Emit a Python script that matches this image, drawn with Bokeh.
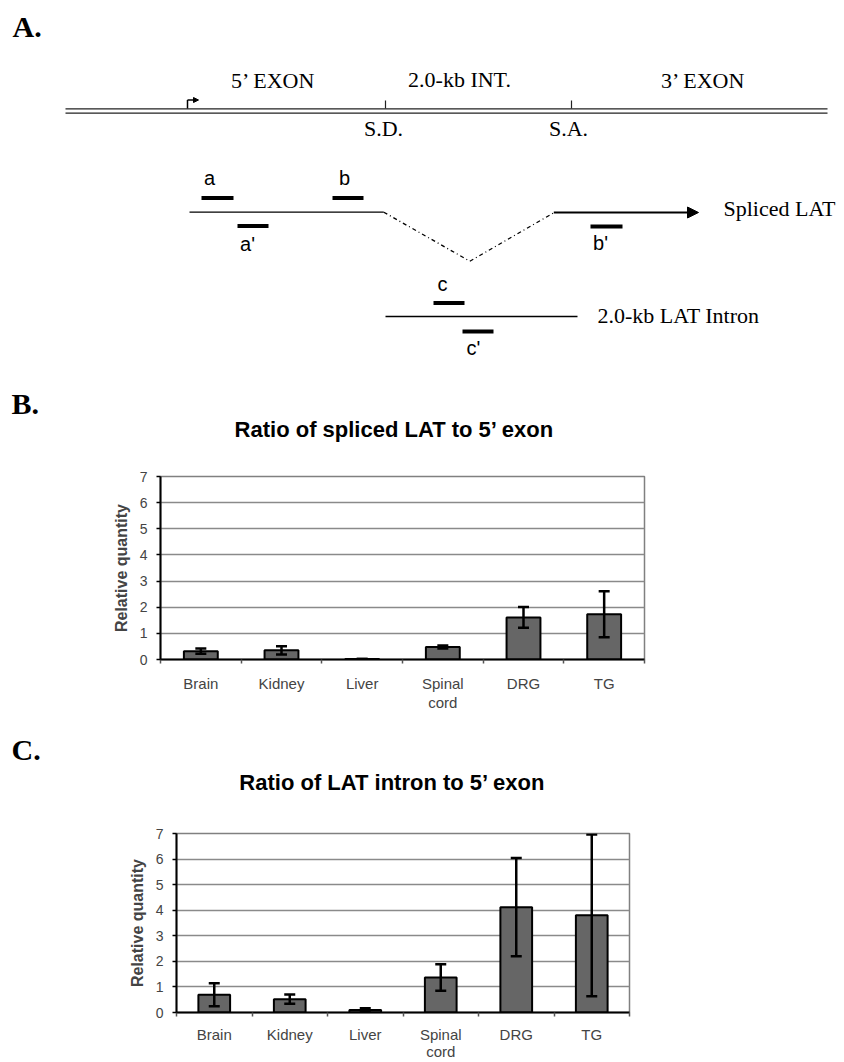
from bokeh.plotting import figure
from bokeh.models import (Range1d, FixedTicker, Whisker, TeeHead, ColumnDataSource,
                          Arrow, NormalHead)
from bokeh.core.properties import value
from bokeh.embed import file_html
from bokeh.resources import INLINE

# ---------------- data (panels B and C) ----------------
categories = ["Brain", "Kidney", "Liver", "Spinal cord", "DRG", "TG"]
category_labels = ["Brain", "Kidney", "Liver", "Spinal\ncord", "DRG", "TG"]
spliced_mean = [0.32, 0.35, 0.02, 0.48, 1.61, 1.73]
spliced_err = [0.10, 0.16, 0.00, 0.06, 0.40, 0.88]
intron_mean = [0.69, 0.52, 0.10, 1.37, 4.12, 3.80]
intron_err = [0.45, 0.18, 0.07, 0.52, 1.92, 3.16]
y_ticks = [0, 1, 2, 3, 4, 5, 6, 7]
title_b = "Ratio of spliced LAT to 5\u2019 exon"
title_c = "Ratio of LAT intron to 5\u2019 exon"
y_label = "Relative quantity"

# ---------------- schematic (panel A) ----------------
region_names = ["5\u2019 EXON", "2.0-kb INT.", "3\u2019 EXON"]
region_x = [273, 459, 703]
site_names = ["S.D.", "S.A."]
site_x = [385, 571]
primer_names = ["a", "b", "a'", "b'", "c", "c'"]
primer_x0 = [201, 332, 237, 590, 433, 462]
primer_x1 = [233, 363, 268, 622, 464, 493]
primer_y = [197.5, 197.5, 225.5, 226, 302.5, 331]
primer_label_x = [209, 344, 247, 600, 442, 473]
primer_label_y = [177, 177, 243, 242, 283, 347]

SERIF = "Liberation Serif"
SANS = "Liberation Sans"
W = 844


def canvas(top, height):
    p = figure(width=W, height=height, x_range=Range1d(0, W),
               y_range=Range1d(top + height, top), toolbar_location=None,
               output_backend="svg", min_border=0, x_axis_type=None, y_axis_type=None,
               outline_line_color=None)
    p.grid.visible = False
    return p


# ---------- Panel A + header of B ----------
pa = canvas(0, 455)
pa.text(x=[12], y=[26], text=["A."], text_font=value(SERIF), text_font_style="bold",
        text_font_size="30px", text_align="left", text_baseline="middle")
# genome double line
for yy in [108.3, 112.7]:
    pa.line(x=[65, 827], y=[yy, yy], line_color="#222222", line_width=1.3)
# splice-site ticks
pa.segment(x0=site_x, y0=[100, 100], x1=site_x, y1=[108, 108], line_color="#222222", line_width=1.2)
pa.text(x=region_x, y=[80, 79, 80], text=region_names, text_font=value(SERIF),
        text_font_size="22px", text_align="center", text_baseline="middle")
pa.text(x=[383, 568], y=[128, 128], text=site_names, text_font=value(SERIF),
        text_font_size="22px", text_align="center", text_baseline="middle")
# promoter arrow
pa.segment(x0=[187], y0=[108], x1=[187], y1=[99.5], line_color="black", line_width=1.5)
pa.add_layout(Arrow(end=NormalHead(size=5, fill_color="black", line_color="black"),
                    x_start=187, y_start=99.5, x_end=198, y_end=99.5,
                    line_width=1.5, line_color="black"))
# spliced transcript
pa.line(x=[189, 383.3], y=[211.7, 211.7], line_color="black", line_width=1.3)
pa.line(x=[383.3, 469.3, 553.3], y=[211.7, 260.7, 212.3], line_color="black",
        line_width=1.3, line_dash="4 3 1 3")
pa.add_layout(Arrow(end=NormalHead(size=11, fill_color="black", line_color="black"),
                    x_start=553.3, y_start=212, x_end=698, y_end=212,
                    line_width=2, line_color="black"))
pa.text(x=[723], y=[208], text=["Spliced LAT"], text_font=value(SERIF),
        text_font_size="22px", text_align="left", text_baseline="middle")
# intron
pa.line(x=[385, 577], y=[316, 316], line_color="black", line_width=1.3)
pa.text(x=[597], y=[315], text=["2.0-kb LAT Intron"], text_font=value(SERIF),
        text_font_size="22px", text_align="left", text_baseline="middle")
# primers
pa.segment(x0=primer_x0, y0=primer_y, x1=primer_x1, y1=primer_y, line_color="black",
           line_width=4)
pa.text(x=primer_label_x, y=primer_label_y, text=primer_names, text_font=value(SANS),
        text_font_size="20px", text_align="center", text_baseline="middle")
# B header
pa.text(x=[11], y=[403], text=["B."], text_font=value(SERIF), text_font_style="bold",
        text_font_size="30px", text_align="left", text_baseline="middle")
pa.text(x=[394], y=[429], text=[title_b], text_font=value(SANS), text_font_style="bold",
        text_font_size="22px", text_align="center", text_baseline="middle")


def bar_chart(mean, err, top, height, f_left, f_right, f_top, f_bottom, lh, standoff):
    n = len(categories)
    xs = [i + 0.5 for i in range(n)]
    src = ColumnDataSource(dict(x=xs, top=mean,
                                upper=[m + e for m, e in zip(mean, err)],
                                lower=[m - e for m, e in zip(mean, err)]))
    p = figure(width=W, height=height, x_range=Range1d(0, n), y_range=Range1d(0, 7),
               toolbar_location=None, output_backend="svg",
               min_border_left=int(round(f_left)), min_border_right=int(round(W - f_right)),
               min_border_top=int(round(f_top - top)), min_border_bottom=int(round(top + height - f_bottom)))
    p.vbar(x="x", top="top", width=0.42, source=src, fill_color="#666666",
           line_color="black", line_width=2)
    p.add_layout(Whisker(source=src, base="x", upper="upper", lower="lower",
                         level="overlay", line_width=2.5, line_color="black",
                         upper_head=TeeHead(size=11, line_width=2.5, line_color="black"),
                         lower_head=TeeHead(size=11, line_width=2.5, line_color="black")))
    p.outline_line_color = "#808080"
    p.outline_line_width = 1.5
    p.xgrid.grid_line_color = None
    p.ygrid.ticker = FixedTicker(ticks=y_ticks)
    p.ygrid.grid_line_color = "#8a8a8a"
    p.ygrid.grid_line_width = 1.5
    # x axis: labels at centres, ticks at category boundaries
    p.xaxis.ticker = FixedTicker(ticks=xs, minor_ticks=list(range(n + 1)))
    p.xaxis.major_label_overrides = {x: lab for x, lab in zip(xs, category_labels)}
    p.xaxis.major_tick_line_color = None
    p.xaxis.major_tick_out = 0
    p.xaxis.major_tick_in = 0
    p.xaxis.minor_tick_out = 4
    p.xaxis.minor_tick_in = 0
    p.xaxis.minor_tick_line_color = "#555555"
    p.xaxis.minor_tick_line_width = 1.5
    p.xaxis.major_label_text_font = SANS
    p.xaxis.major_label_text_font_size = "15px"
    p.xaxis.major_label_text_line_height = lh
    p.xaxis.major_label_standoff = standoff
    p.xaxis.axis_line_width = 2
    p.xaxis.axis_line_color = "black"
    # y axis
    p.yaxis.ticker = FixedTicker(ticks=y_ticks)
    p.yaxis.minor_tick_line_color = None
    p.yaxis.major_tick_out = 4
    p.yaxis.major_tick_in = 0
    p.yaxis.major_tick_line_width = 1.5
    p.yaxis.axis_line_width = 2
    p.yaxis.axis_line_color = "black"
    p.yaxis.major_label_text_font = SANS
    p.yaxis.major_label_text_font_size = "14px"
    p.yaxis.major_label_standoff = 9
    p.yaxis.axis_label = y_label
    p.yaxis.axis_label_text_font = SANS
    p.yaxis.axis_label_text_font_style = "bold"
    p.yaxis.axis_label_text_font_size = "16px"
    p.yaxis.axis_label_standoff = 7
    return p


pb = bar_chart(spliced_mean, spliced_err, 455, 267, 160, 644, 476, 659.3, 1.15, 11)

# C header
hc = canvas(722, 88)
hc.text(x=[11], y=[749], text=["C."], text_font=value(SERIF), text_font_style="bold",
        text_font_size="30px", text_align="left", text_baseline="middle")
hc.text(x=[392], y=[782], text=[title_c], text_font=value(SANS), text_font_style="bold",
        text_font_size="22px", text_align="center", text_baseline="middle")

pc = bar_chart(intron_mean, intron_err, 810, 252, 176.3, 629.3, 833.3, 1013.3, 1.0, 9)

open("out.html", "w").write(file_html([pa, pb, hc, pc], INLINE))
